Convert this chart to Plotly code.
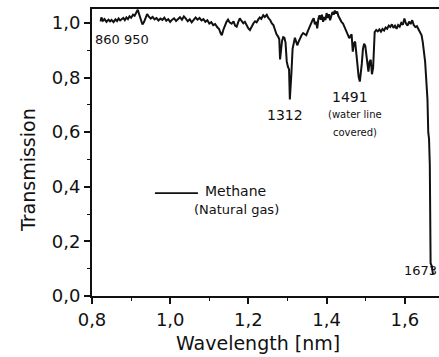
import plotly.graph_objects as go

# Methane (natural gas) transmission spectrum
wavelength = [
    0.822, 0.824, 0.828, 0.832, 0.837, 0.842, 0.846, 0.850, 0.855, 0.860,
    0.864, 0.868, 0.872, 0.876, 0.880, 0.884, 0.888, 0.892, 0.896, 0.900,
    0.905, 0.909, 0.913, 0.917, 0.921, 0.925, 0.929, 0.933, 0.937, 0.941,
    0.945, 0.950, 0.955, 0.960, 0.965, 0.970, 0.975, 0.980, 0.985, 0.990,
    0.995, 1.000, 1.005, 1.010, 1.015, 1.020, 1.025, 1.030, 1.035, 1.040,
    1.045, 1.050, 1.055, 1.060, 1.065, 1.070, 1.075, 1.080, 1.085, 1.090,
    1.095, 1.100, 1.105, 1.110, 1.115, 1.120, 1.125, 1.129, 1.132, 1.136,
    1.140, 1.144, 1.148, 1.152, 1.157, 1.162, 1.166, 1.170, 1.174, 1.178,
    1.182, 1.187, 1.191, 1.196, 1.200, 1.204, 1.208, 1.213, 1.217, 1.221,
    1.225, 1.229, 1.233, 1.238, 1.242, 1.247, 1.251, 1.256, 1.260, 1.264,
    1.268, 1.272, 1.276, 1.279, 1.281, 1.283, 1.286, 1.289, 1.292, 1.295,
    1.298, 1.301, 1.304, 1.306, 1.308, 1.310, 1.313, 1.316, 1.319, 1.322,
    1.325, 1.328, 1.332, 1.336, 1.340, 1.344, 1.348, 1.352, 1.356, 1.360,
    1.364, 1.367, 1.370, 1.373, 1.376, 1.379, 1.382, 1.385, 1.388, 1.391,
    1.394, 1.397, 1.400, 1.403, 1.406, 1.409, 1.412, 1.415, 1.418, 1.421,
    1.424, 1.427, 1.430, 1.434, 1.438, 1.442, 1.446, 1.450, 1.454, 1.458,
    1.461, 1.464, 1.467, 1.470, 1.473, 1.476, 1.479, 1.482, 1.485, 1.488,
    1.490, 1.493, 1.496, 1.499, 1.502, 1.505, 1.507, 1.510, 1.513, 1.516,
    1.519, 1.521, 1.523, 1.527, 1.531, 1.535, 1.539, 1.543, 1.547, 1.551,
    1.555, 1.559, 1.563, 1.567, 1.571, 1.575, 1.579, 1.583, 1.587, 1.591,
    1.595, 1.599, 1.603, 1.607, 1.611, 1.615, 1.619, 1.623, 1.627, 1.631,
    1.635, 1.639, 1.643, 1.646, 1.649, 1.652, 1.655, 1.658, 1.660, 1.662,
    1.664, 1.665, 1.666, 1.669, 1.672,
]
transmission = [
    1.005, 1.020, 1.008, 1.014, 1.004, 1.012, 1.006, 1.011, 1.003, 1.013,
    1.007, 1.016, 1.009, 1.012, 1.018, 1.010, 1.020, 1.014, 1.024, 1.019,
    1.030, 1.026, 1.038, 1.048, 1.030, 1.012, 0.994, 1.003, 1.022, 1.032,
    1.024, 1.016, 1.022, 1.013, 1.018, 1.009, 1.016, 1.011, 1.019, 1.008,
    1.014, 1.004, 1.012, 1.017, 1.007, 1.015, 1.021, 1.012, 1.024, 1.016,
    1.006, 1.013, 1.002, 1.011, 1.020, 1.012, 1.018, 1.009, 1.014, 1.004,
    1.010, 0.998, 1.003, 0.992, 0.996, 0.985, 0.978, 0.962, 0.955, 0.975,
    0.992, 1.004, 1.012, 1.002, 0.997, 1.006, 0.990, 0.986, 1.003, 1.017,
    1.008, 0.999, 1.004, 0.987, 0.980, 0.974, 0.986, 0.999, 1.006, 1.002,
    1.012, 1.020, 1.015, 1.028, 1.022, 1.030, 1.018, 1.010, 0.998, 0.992,
    0.975, 0.958, 0.950, 0.940, 0.866, 0.900, 0.934, 0.948, 0.946, 0.928,
    0.860, 0.840, 0.830, 0.720, 0.760, 0.815, 0.905, 0.935, 0.946, 0.932,
    0.918, 0.930, 0.945, 0.955, 0.963, 0.958, 0.955, 0.970, 0.986, 0.995,
    1.010, 1.017, 0.995, 1.005, 0.980, 1.015, 1.028, 1.012, 1.030, 1.004,
    1.022, 1.010, 1.036, 1.018, 1.032, 1.010, 1.028, 1.040, 1.030, 1.045,
    1.034, 1.042, 1.026, 1.012, 1.004, 0.998, 0.985, 0.968, 0.958, 0.944,
    0.952, 0.958, 0.895, 0.925, 0.932, 0.888, 0.862, 0.803, 0.785, 0.820,
    0.850, 0.905, 0.924, 0.915, 0.884, 0.835, 0.822, 0.858, 0.865, 0.812,
    0.835, 0.900, 0.966, 0.974, 0.969, 0.976, 0.968, 0.978, 0.972, 0.983,
    0.979, 0.990, 0.985, 0.995, 0.982, 0.990, 0.978, 0.992, 0.986, 1.000,
    0.993, 1.016, 0.998, 0.990, 1.005, 0.996, 1.010, 0.992, 0.985, 0.988,
    0.978, 0.968, 0.955, 0.930, 0.895, 0.858, 0.790, 0.720, 0.600, 0.575,
    0.480, 0.300, 0.120, 0.110, 0.080,
]

x_ticks = [0.8, 1.0, 1.2, 1.4, 1.6]
x_tick_text = ["0,8", "1,0", "1,2", "1,4", "1,6"]
y_ticks = [0.0, 0.2, 0.4, 0.6, 0.8, 1.0]
y_tick_text = ["0,0", "0,2", "0,4", "0,6", "0,8", "1,0"]

FONT = "DejaVu Sans"
INK = "#111111"

fig = go.Figure()
fig.add_trace(go.Scatter(
    x=wavelength, y=transmission, mode="lines",
    line=dict(color=INK, width=2), showlegend=False, name="Methane",
))

# Peak labels
def label(x, y, text, size, anchor="center"):
    fig.add_annotation(x=x, y=y, xref="x", yref="y", text=text, showarrow=False,
                       xanchor=anchor, yanchor="middle",
                       font=dict(family=FONT, size=size, color=INK))

label(0.8026, 0.938, "860 950", 13, "left")
label(1.2936, 0.663, "1312", 14)
label(1.460, 0.729, "1491", 14)
label(1.4726, 0.663, "(water line", 10)
label(1.4726, 0.597, "covered)", 10)
label(1.6865, 0.092, "1673", 13, "right")

# Legend entry
fig.add_shape(type="line", xref="x", yref="y", x0=0.961, x1=1.071, y0=0.377, y1=0.377,
              line=dict(color=INK, width=1.8))
label(1.084, 0.385, "Methane", 14, "left")
label(1.056, 0.317, "(Natural gas)", 13, "left")

# Axis titles
fig.add_annotation(x=-0.1844, y=0.439, xref="paper", yref="paper", text="Transmission",
                   textangle=-90, showarrow=False, xanchor="center", yanchor="middle",
                   font=dict(family=FONT, size=19, color=INK))
fig.add_annotation(x=0.478, y=-0.164, xref="paper", yref="paper", text="Wavelength [nm]",
                   showarrow=False, xanchor="center", yanchor="middle",
                   font=dict(family=FONT, size=19, color=INK))

axis_common = dict(
    showline=True, linecolor=INK, linewidth=2, showgrid=False, zeroline=False,
    ticks="outside", ticklen=6, tickwidth=1.5, tickcolor=INK,
    tickfont=dict(family=FONT, size=18, color=INK),
)
fig.update_xaxes(range=[0.8, 1.6875], tickvals=x_ticks, ticktext=x_tick_text, mirror=True,
                 minor=dict(dtick=0.1, tick0=0.8, ticks="outside", ticklen=3, tickwidth=1,
                            tickcolor=INK),
                 **axis_common)
fig.update_yaxes(range=[0, 1.051], tickvals=y_ticks, ticktext=y_tick_text,
                 minor=dict(dtick=0.1, tick0=0, ticks="outside", ticklen=3, tickwidth=1,
                            tickcolor=INK),
                 **axis_common)

fig.update_layout(
    width=439, height=357, autosize=False,
    margin=dict(l=92, r=0, t=9, b=61),
    paper_bgcolor="white", plot_bgcolor="white",
)

fig.write_html("out.html")
